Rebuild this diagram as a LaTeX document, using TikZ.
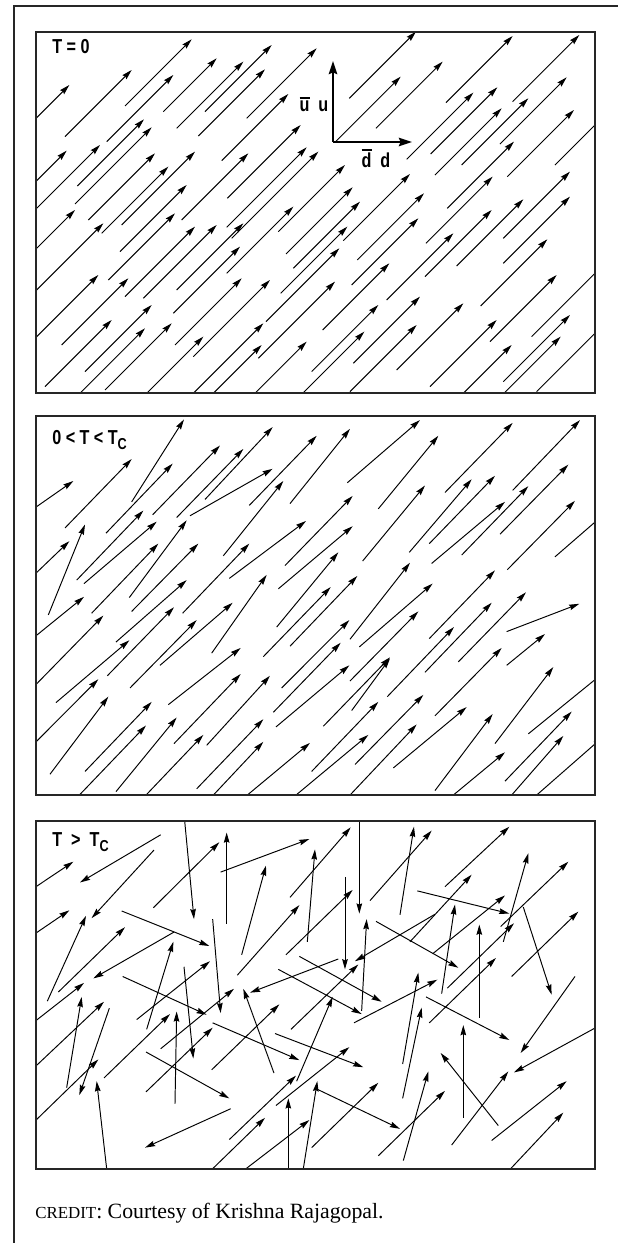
\documentclass[tikz,border=0pt]{standalone}
\usepackage{fontspec}
\setmainfont{Liberation Serif}
\newfontfamily\condfont{Liberation Sans}[FakeStretch=0.8]
\usetikzlibrary{arrows.meta}

% bar over a letter, as in the quark labels
\newcommand{\topbar}[1]{\setbox0\hbox{#1}\vbox{\hrule height 1pt width \wd0 \kern 1.4pt \box0}}

\tikzset{
  spin/.style={line width=0.55pt, -{Stealth[length=5.8pt,width=3.2pt,inset=0.7pt]}},
  panelbox/.style={draw=black!85, line width=1.1pt},
  axisarrow/.style={line width=1.1pt, -{Stealth[length=7.5pt,width=4.8pt,inset=1pt]}},
  templabel/.style={font=\condfont\bfseries\fontsize{11.5}{13}\selectfont, anchor=base west, inner sep=0pt},
  quarklabel/.style={font=\condfont\bfseries\fontsize{11.5}{13}\selectfont, inner sep=0pt},
  zoomgrid/.style={x=0.0066667cm, y=-0.0066667cm}
}

\begin{document}
\begin{tikzpicture}[x=0.02cm, y=-0.02cm]
\useasboundingbox (0,0) rectangle (618,1243);

% outer frame
\draw[line width=1.4pt, black!85] (14,1243) -- (14,6) -- (618,6);

% panel 1: T = 0, all aligned
\begin{scope}
  \clip (36,32) rectangle (595,393);
  \begin{scope}[shift={(30,30)}, zoomgrid]
    \foreach \hx/\hy/\l in {118/165/110, 305/120/200, 485/28/200, 430/135/200, 560/85/160, 640/95/200,
      725/45/200, 705/118/200, 860/55/210, 775/192/200, 342/268/200, 365/292/230, 210/345/200,
      110/362/100, 375/370/200, 495/365/220, 415/410/200, 655/370/200, 812/285/220, 830/352/240,
      865/365/260, 470/465/200, 135/540/130, 220/580/200, 435/550/200, 495/590/210, 560/585/220,
      640/580/200, 790/530/200, 630/650/200, 205/735/200, 295/745/200, 635/745/200, 720/750/230,
      365/825/200, 245/870/200, 425/880/200, 345/895/200, 700/880/220, 520/920/200, 695/945/200,
      830/935/220, 1158/5/200, 1238/95/200, 1112/140/197, 1448/18/200, 1330/188/200, 1402/172/200,
      1495/205/200, 1415/235/200, 1452/335/200, 1648/15/200, 1610/142/200, 1632/240/200,
      945/405/200, 968/472/200, 990/515/200, 952/590/200, 928/655/220, 915/755/230, 1140/432/200,
      1182/490/200, 1388/440/200, 1165/565/200, 1270/610/200, 1385/540/200, 1480/508/200,
      1620/425/200, 1620/500/200, 1552/628/200, 1078/700/200, 1170/800/200, 1300/820/200,
      1045/825/200, 1003/905/200, 1160/885/200, 1400/870/200, 1580/735/200, 1620/855/200,
      1592/920/170, 1445/945/150, 1725/255/150, 1735/690/230, 1720/885/200}
      \draw[spin] ({\hx-\l},{\hy+\l}) -- (\hx,\hy);
  \end{scope}
\end{scope}

% panel 2: 0 < T < Tc, partly aligned
\begin{scope}
  \clip (36,416) rectangle (595,795);
  \begin{scope}[shift={(30,409.7)}, zoomgrid, y=-0.006954cm]
    \foreach \tx/\ty/\hx/\hy in {18/280/130/205, 105/340/305/142, 305/265/462/28, 228/355/428/155,
      368/302/570/103, 440/310/640/113, 525/258/728/50, 480/305/728/170, 658/275/860/75,
      580/420/760/205, 780/270/960/55, 18/470/118/378, 55/590/165/330, 140/490/340/290,
      162/500/380/322, 298/540/470/318, 185/585/385/385, 305/580/505/385, 18/650/162/538,
      598/485/828/320, 458/585/658/385, 18/790/220/592, 258/668/470/490, 232/765/432/568,
      545/700/710/475, 765/448/968/248, 745/515/968/335, 300/800/500/605, 390/735/608/555,
      78/842/298/663, 18/955/205/775, 415/848/632/685, 60/1048/235/825, 165/1040/365/840,
      148/1108/348/908, 258/1098/440/885, 432/960/632/760, 530/965/720/765, 348/1108/520/935,
      500/1090/700/890, 550/1108/700/955, 652/1108/840/958, 740/625/925/410, 700/710/902/510,
      780/680/982/478, 755/800/958/605, 730/870/932/670, 738/912/958/735, 798/1108/1015/935,
      845/1040/1045/840, 952/210/1170/30, 1045/285/1225/75, 1245/238/1448/38, 1448/232/1650/30,
      998/435/1185/218, 1138/410/1325/200, 1198/385/1395/190, 1205/442/1425/265,
      1295/418/1495/220, 1410/358/1615/158, 1432/460/1635/262, 1575/423/1735/290,
      960/660/1140/440, 988/682/1208/500, 960/780/1165/580, 965/865/1080/715, 1072/825/1272/625,
      1198/658/1395/462, 1285/725/1488/525, 1430/638/1648/558, 1430/735/1545/645,
      1215/880/1415/685, 1395/960/1570/740, 1090/1030/1310/855, 975/1020/1180/820,
      960/1108/1160/905, 1215/1095/1388/875, 1270/1108/1425/985, 1425/1068/1625/868,
      1445/1108/1600/938, 1495/932/1735/745, 1520/1108/1720/940, 1185/755/1385/555,
      880/910/1080/712}
      \draw[spin] (\tx,\ty) -- (\hx,\hy);
  \end{scope}
\end{scope}

% panel 3: T > Tc, random
\begin{scope}
  \clip (36,821) rectangle (595,1169);
  \begin{scope}[shift={(30,826.7)}, zoomgrid, y=-0.00649cm]
    \foreach \tx/\ty/\hx/\hy in {18/185/130/108, 392/25/150/172, 462/-40/492/285, 590/300/590/18,
      370/250/568/48, 572/140/838/38, 372/72/185/282, 18/328/118/258, 52/538/168/275,
      635/395/708/120, 780/218/962/2, 832/355/855/70, 275/260/538/368, 85/510/285/310,
      432/325/190/468, 18/598/162/482, 768/395/968/195, 622/458/808/242, 548/285/572/575,
      278/462/530/580, 320/595/540/415, 462/432/490/715, 350/625/430/355, 925/408/660/512,
      808/400/1055/540, 745/440/995/578, 392/685/612/500, 732/760/640/500, 18/738/222/540,
      110/805/155/525, 238/560/148/828, 222/775/420/578, 435/855/440/570, 348/818/548/620,
      548/605/808/720, 545/750/748/548, 348/695/598/838, 783/625/985/425, 735/638/1000/742,
      18/905/205/718, 800/785/908/525, 230/1055/200/785, 598/965/798/768, 738/860/958/680,
      602/870/345/990, 548/1055/705/898, 648/1055/838/905, 775/1055/775/838, 820/1055/862/785,
      845/990/1045/790, 988/-40/988/268, 1020/228/1205/12, 1110/272/1152/0, 1245/185/1438/0,
      945/155/945/440, 995/568/1010/285, 1038/292/1285/435, 1162/198/1438/268,
      1140/355/1325/148, 1215/270/975/415, 1208/392/1425/212, 1235/515/1275/240,
      1348/590/1348/302, 1420/355/1495/82, 1412/308/1615/108, 1480/248/1565/518,
      1252/498/1452/298, 1445/462/1645/262, 1635/462/1472/698, 1720/607/1452/758,
      972/605/1222/472, 1118/732/1165/450, 1118/838/1175/558, 1188/525/1438/658,
      1198/605/1398/405, 1300/898/1300/612, 1405/922/1232/698, 1265/982/1435/755,
      1385/968/1610/785, 1442/1055/1600/882, 862/810/1110/932, 1045/1015/1245/815,
      1120/1030/1195/755}
      \draw[spin] (\tx,\ty) -- (\hx,\hy);
  \end{scope}
\end{scope}

% panel frames
\draw[panelbox] (36,32) rectangle (595,393);
\draw[panelbox] (36,416) rectangle (595,795);
\draw[panelbox] (36,821) rectangle (595,1169);

% temperature labels
\node[templabel] (tzero) at (52,54) {T\hspace{0.22em}=\hspace{0.22em}0};
\node[templabel] (tlow) at (52,444) {0\hspace{0.22em}<\hspace{0.22em}T\hspace{0.22em}<\hspace{0.22em}T\raisebox{-0.5ex}{\fontsize{9}{10}\selectfont C}};
\node[templabel] (thigh) at (52,846) {T\ \ >\ \ T\raisebox{-0.5ex}{\fontsize{9}{10}\selectfont C}};

% quark axes
\coordinate (origin) at (333,142);
\coordinate (uend) at (333,61);
\coordinate (dend) at (412,142);
\draw[axisarrow] (origin) -- (uend);
\draw[axisarrow] (origin) -- (dend);
\node[quarklabel, anchor=base] (ulabel) at (314,112) {\topbar{u}\ \ u};
\node[quarklabel, anchor=base] (dlabel) at (376,168) {\topbar{d}\ \ d};

% credit line
\node[anchor=base west, inner sep=0pt, font=\fontsize{12.4}{14}\selectfont] (credit) at (35,1218)
  {{\fontsize{9.6}{11}\selectfont CREDIT}: Courtesy of Krishna Rajagopal.};
\end{tikzpicture}
\end{document}
